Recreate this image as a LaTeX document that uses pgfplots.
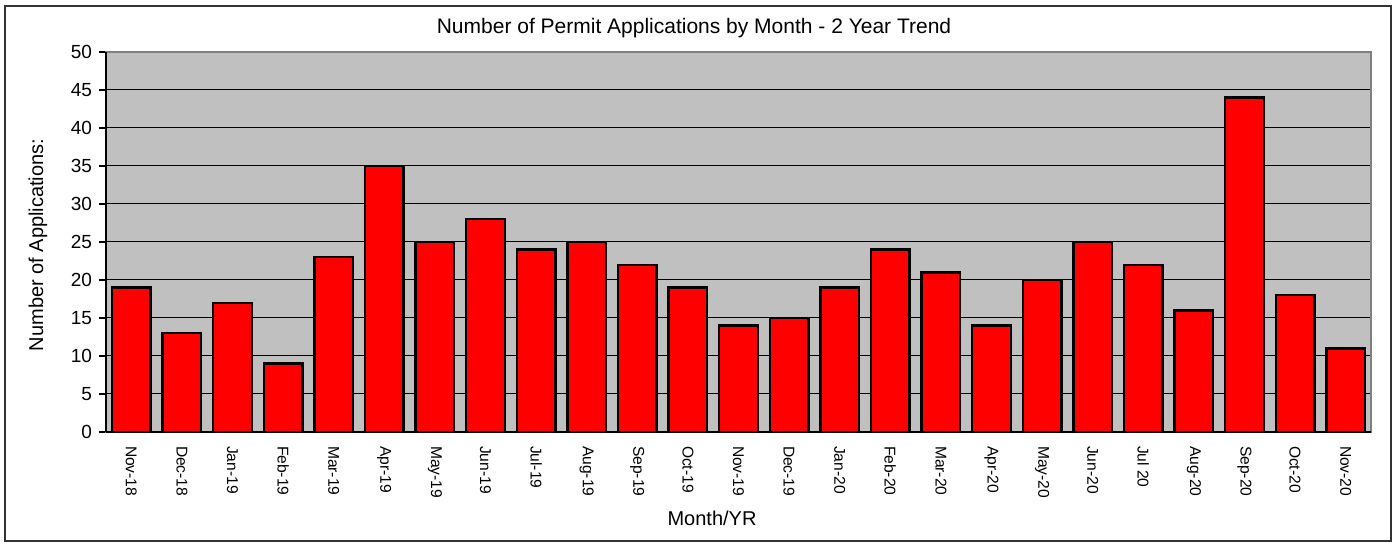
\documentclass[border=0pt]{standalone}
\usepackage{pgfplots}
\pgfplotsset{compat=1.18}
\usepackage{fontspec}
\setmainfont{Liberation Sans}
\definecolor{plotgray}{RGB}{192,192,192}
\definecolor{edgegray}{RGB}{128,128,128}
\begin{document}
\begin{tikzpicture}
\useasboundingbox (-53pt,-56pt) rectangle (645.5pt,216pt);
\fill[white] (-53pt,-56pt) rectangle (645.5pt,216pt);
\draw[line width=0.7pt, black!80] (-50.5pt,-54.5pt) rectangle (642.5pt,213pt);
\begin{axis}[
  at={(0pt,0pt)}, anchor=south west,
  scale only axis, width=632.5pt, height=190pt,
  xmin=-0.5, xmax=24.5, ymin=0, ymax=50,
  ytick={0,5,...,50},
  xtick={0,...,24},
  xticklabels={Nov-18,Dec-18,Jan-19,Feb-19,Mar-19,Apr-19,May-19,Jun-19,Jul-19,Aug-19,Sep-19,Oct-19,Nov-19,Dec-19,Jan-20,Feb-20,Mar-20,Apr-20,May-20,Jun-20,Jul 20,Aug-20,Sep-20,Oct-20,Nov-20},
  x tick label style={rotate=-90, anchor=west, font=\fontsize{7.8}{9}\selectfont},
  xticklabel shift=0pt,
  y tick label style={font=\fontsize{9.5}{11}\selectfont},
  /pgf/number format/assume math mode=true,
  x tick style={draw=none},
  extra x ticks={-0.5,0.5,...,24.5},
  extra x tick labels={},
  extra x tick style={tick style={draw=black, line width=0.6pt}, major tick length=3.5pt, grid=none},
  y tick style={black, line width=0.6pt},
  tick align=outside, major tick length=3.5pt,
  xtick pos=bottom, ytick pos=left,
  ymajorgrids, grid style={black, line width=0.5pt},
  axis background/.style={fill=plotgray},
  axis line style={edgegray, line width=1pt},
  ybar, bar width=0.76,
  clip=false,
]
\addplot[fill=red, draw=black, line width=1.2pt] coordinates {
(0,19) (1,13) (2,17) (3,9) (4,23) (5,35) (6,25) (7,28) (8,24) (9,25)
(10,22) (11,19) (12,14) (13,15) (14,19) (15,24) (16,21) (17,14) (18,20)
(19,25) (20,22) (21,16) (22,44) (23,18) (24,11)};
\draw[black, line width=0.8pt] (rel axis cs:0,0) -- (rel axis cs:1,0);
\draw[black, line width=0.8pt] (rel axis cs:0,0) -- (rel axis cs:0,1);
\end{axis}
\node[font=\fontsize{10.5}{12}\selectfont] at (294pt,202pt) {Number of Permit Applications by Month - 2 Year Trend};
\node[font=\fontsize{10}{12}\selectfont] at (303pt,-43pt) {Month/YR};
\node[font=\fontsize{10}{12}\selectfont, rotate=90] at (-34pt,93.5pt) {Number of Applications:};
\end{tikzpicture}
\end{document}
